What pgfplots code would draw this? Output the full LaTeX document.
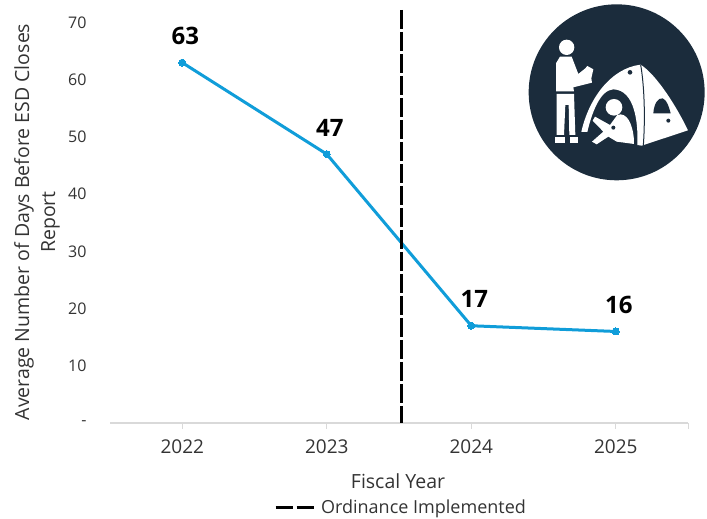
\documentclass[border=0pt]{standalone}
\usepackage{fontspec}
\setmainfont{Open Sans}
\usepackage{pgfplots}
\pgfplotsset{compat=1.18}
\definecolor{trend}{HTML}{109DD9}
\definecolor{badge}{HTML}{1B2C3C}
\definecolor{inktext}{HTML}{333333}
\definecolor{axisgrey}{HTML}{D9D9D9}
\begin{document}
\begin{tikzpicture}[x=1pt,y=1pt]
\path[use as bounding box] (0,0) rectangle (707,519);
\begin{axis}[
  at={(110pt,96pt)}, anchor=origin,
  scale only axis, width=578pt, height=413pt,
  xmin=2021.5, xmax=2025.5, ymin=0, ymax=72.2,
  axis x line=bottom, axis y line=none,
  axis line style={draw=axisgrey, line width=1.5pt, -},
  xtick={2022,2023,2024,2025},
  xticklabels={2022,2023,2024,2025},
  extra x ticks={2025.5}, extra x tick labels={},
  extra x tick style={tick style={draw=axisgrey,line width=1pt}},
  x tick style={draw=axisgrey, line width=1pt},
  major tick length=6pt,
  tick align=outside,
  x tick label style={font=\fontsize{19}{23}\selectfont, text=inktext, yshift=-7pt},
  clip=false,
  legend style={draw=none, fill=none, at={(0.5035,-0.205)}, anchor=center,
    font=\fontsize{18}{21}\selectfont, text=inktext, inner sep=0pt},
  legend image code/.code={
    \draw[black, line width=3pt] (0pt,0pt) -- (17pt,0pt);
    \draw[black, line width=3pt] (21pt,0pt) -- (38pt,0pt);
  },
  legend cell align=left,
]
% Average days per fiscal year
\addplot[trend, line width=3pt, mark=*, mark size=3.5pt,
  mark options={fill=trend, draw=trend, line width=0pt},
  point meta=explicit symbolic, forget plot,
  nodes near coords,
  every node near coord/.style={anchor=center, xshift=3pt, yshift=26.5pt,
    font=\bfseries\fontsize{24}{28}\selectfont, text=black}]
  table[meta=label] {
  x y label
  2022 63 63
  2023 47 47
  2024 17 17
  2025 16 16
};
% Ordinance marker, dashes counted from the top
\addplot[black, line width=3pt, dash pattern=on 19pt off 3pt]
  coordinates {(2023.517,72.2) (2023.517,0)};
\addlegendentry{\hspace{4pt}Ordinance Implemented}
\end{axis}
% y axis labels
\foreach \v/\t in {0/-,10/10,20/20,30/30,40/40,50/50,60/60,70/70}
  \node[anchor=east, text=inktext, font=\fontsize{16}{20}\selectfont] at (90, {96+\v*5.72}) {\t};
\node[rotate=90, align=center, text=inktext, font=\fontsize{19.5}{26}\selectfont] at (37,297)
  {Average Number of Days Before ESD Closes\\Report};
\node[text=inktext, font=\fontsize{19.5}{24}\selectfont] at (398,38) {Fiscal Year};
% Badge
\begin{scope}[shift={(510,519)}, x=0.3333pt, y=-0.3333pt]
  \fill[badge] (320,277) circle (264);
  % standing figure
  \fill[white] (170,142) circle (23);
  \fill[white] (150,170) -- (185,170) -- (205,222) -- (226,205) -- (232,198) -- (250,208) -- (244,235) -- (246,248) -- (190,262) -- (192,274) -- (138,274) -- (138,190) -- cycle;
  \fill[white] (140,282) -- (192,282) -- (196,405) -- (178,405) -- (176,315) -- (166,315) -- (162,405) -- (140,405) -- cycle;
  \fill[white] (135,411) -- (165,411) -- (165,430) -- (135,430) -- cycle;
  \fill[white] (180,411) -- (205,411) -- (205,430) -- (180,430) -- cycle;
  % tent
  \fill[white] (214,396) .. controls (235,300) and (300,205) .. (392,194)
     .. controls (440,225) and (500,320) .. (534,391) -- (395,437)
     -- (382,435) .. controls (385,370) and (375,270) .. (310,268)
     .. controls (270,270) and (245,340) .. (232,396) -- cycle;
  \draw[badge, line width=1pt] (392,194) .. controls (405,270) and (405,370) .. (400,437);
  \fill[badge] (430,340) .. controls (432,310) and (445,293) .. (458,295) .. controls (472,300) and (478,325) .. (482,340) -- cycle;
  \fill[badge] (360,217) circle (7);
  \fill[badge] (475,362) circle (6);
  % seated figure
  \fill[white] (312,322) circle (25);
  \fill[white] (255,350) -- (300,375) -- (322,345) .. controls (350,335) and (368,370) .. (372,420)
     -- (372,432) -- (320,425) -- (295,410) -- (260,433) -- (246,425) -- (280,395) -- (248,362) -- cycle;
  \fill[badge] (310,383) circle (6);
\end{scope}
\end{tikzpicture}
\end{document}
